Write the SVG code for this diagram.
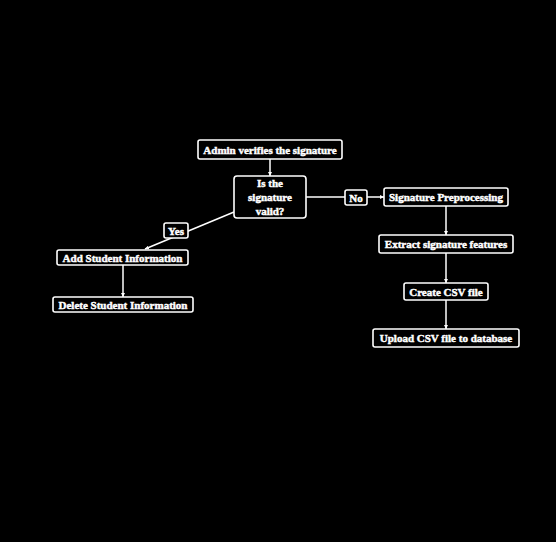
<svg xmlns="http://www.w3.org/2000/svg" width="556" height="542" viewBox="0 0 556 542">
  <style>
    .box { fill: #000; stroke: #fff; stroke-width: 1.6; }
    .lbl { font-family: "Liberation Serif", "Times New Roman", serif; font-size: 11px; font-weight: bold; fill: #fff; stroke: #fff; stroke-width: 0.45; text-anchor: middle; dominant-baseline: central; }
    .edge { stroke: #fff; stroke-width: 1.5; fill: none; marker-end: url(#arrow); }
  </style>
  <defs>
    <marker id="arrow" viewBox="0 0 10 10" refX="10" refY="5" markerWidth="4" markerHeight="4" orient="auto" markerUnits="userSpaceOnUse">
      <path d="M0,0 L10,5 L0,10 z" fill="#fff"/>
    </marker>
  </defs>
  <rect width="556" height="542" fill="#000"/>

  <g id="connectors">
    <line class="edge" x1="270" y1="159" x2="270" y2="176"/>
    <line class="edge" x1="306" y1="197" x2="384" y2="197"/>
    <line class="edge" x1="234" y1="212" x2="145" y2="249"/>
    <line class="edge" x1="446" y1="206" x2="446" y2="235"/>
    <line class="edge" x1="446" y1="253" x2="446" y2="283"/>
    <line class="edge" x1="446" y1="300" x2="446" y2="329"/>
    <line class="edge" x1="123" y1="265" x2="123" y2="297"/>
  </g>

  <g id="admin-verify">
    <rect class="box" x="198" y="140" width="144" height="19" rx="2"/>
    <text class="lbl" x="270" y="149.5">Admin verifies the signature</text>
  </g>

  <g id="is-valid">
    <rect class="box" x="234" y="176" width="72" height="42" rx="3"/>
    <text class="lbl" x="270" y="183">Is the</text>
    <text class="lbl" x="270" y="197">signature</text>
    <text class="lbl" x="270" y="211">valid?</text>
  </g>

  <g id="label-no">
    <rect class="box" x="345" y="190" width="22" height="15" rx="2"/>
    <text class="lbl" x="356" y="197.5">No</text>
  </g>

  <g id="label-yes">
    <rect class="box" x="164" y="223" width="24" height="15" rx="2"/>
    <text class="lbl" x="176" y="230.5">Yes</text>
  </g>

  <g id="preprocessing">
    <rect class="box" x="384" y="188" width="124" height="18" rx="2"/>
    <text class="lbl" x="446" y="197">Signature Preprocessing</text>
  </g>

  <g id="extract-features">
    <rect class="box" x="379" y="235" width="134" height="18" rx="2"/>
    <text class="lbl" x="446" y="244">Extract signature features</text>
  </g>

  <g id="create-csv">
    <rect class="box" x="404" y="283" width="84" height="17" rx="2"/>
    <text class="lbl" x="446" y="291.5">Create CSV file</text>
  </g>

  <g id="upload-csv">
    <rect class="box" x="373" y="329" width="146" height="18" rx="2"/>
    <text class="lbl" x="446" y="338">Upload CSV file to database</text>
  </g>

  <g id="add-student">
    <rect class="box" x="57" y="250" width="131" height="15" rx="2"/>
    <text class="lbl" x="122.5" y="257.5">Add Student Information</text>
  </g>

  <g id="delete-student">
    <rect class="box" x="53" y="297" width="140" height="15" rx="2"/>
    <text class="lbl" x="123" y="304.5">Delete Student Information</text>
  </g>
</svg>
